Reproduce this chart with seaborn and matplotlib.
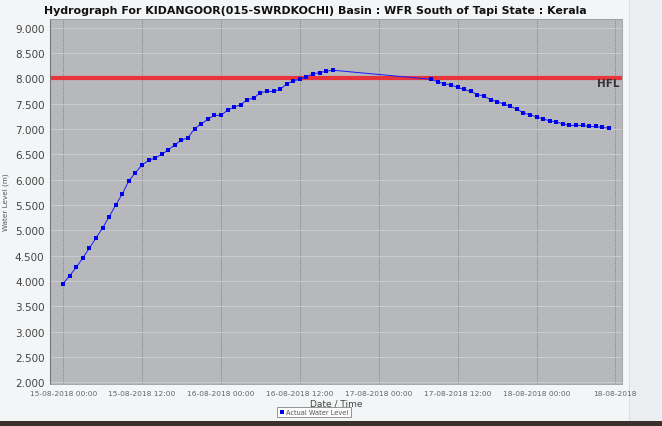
import matplotlib

matplotlib.use("Agg")
import matplotlib.pyplot as plt
import matplotlib.patches as mpatches
import matplotlib.transforms as mtransforms
import pandas as pd
import seaborn as sns

TITLE = "Hydrograph For KIDANGOOR(015-SWRDKOCHI) Basin : WFR South of Tapi State : Kerala"

START = pd.Timestamp("2018-08-15 00:00")

# hourly readings, hours counted from START (no data between hour 41 and 56)
HOURS = list(range(0, 42)) + list(range(56, 84))
LEVELS = [
    3.95, 4.11, 4.27, 4.46, 4.65, 4.85, 5.05, 5.27, 5.50, 5.72,
    5.98, 6.14, 6.29, 6.38, 6.43, 6.50, 6.59, 6.69, 6.78, 6.83,
    7.01, 7.10, 7.19, 7.27, 7.27, 7.37, 7.43, 7.48, 7.58, 7.61,
    7.72, 7.74, 7.74, 7.78, 7.89, 7.95, 7.98, 8.03, 8.09, 8.11,
    8.14, 8.16,
    7.98, 7.93, 7.89, 7.87, 7.82, 7.78, 7.74, 7.68, 7.65, 7.58,
    7.54, 7.49, 7.45, 7.39, 7.32, 7.28, 7.24, 7.20, 7.16, 7.14,
    7.10, 7.07, 7.07, 7.07, 7.05, 7.05, 7.03, 7.02,
]

HFL = 8.0

TICK_HOURS = [0, 12, 24, 36, 48, 60, 72, 84]
TICK_LABELS = [
    "15-08-2018 00:00", "15-08-2018 12:00", "16-08-2018 00:00", "16-08-2018 12:00",
    "17-08-2018 00:00", "17-08-2018 12:00", "18-08-2018 00:00", "18-08-2018",
]
Y_TICKS = [2.0, 2.5, 3.0, 3.5, 4.0, 4.5, 5.0, 5.5, 6.0, 6.5, 7.0, 7.5, 8.0, 8.5, 9.0]

df = pd.DataFrame({
    "time": [START + pd.Timedelta(hours=h) for h in HOURS],
    "level": LEVELS,
})

sns.set_style("white")
plt.rcParams["font.family"] = ["DejaVu Sans"]

fig = plt.figure(figsize=(6.62, 4.27), dpi=100, facecolor="#f3f5f7")
ax = fig.add_axes([50 / 662, 1 - 385 / 427, 572 / 662, 365 / 427])
ax.set_facecolor("#b6b8bb")

# panel decorations
fig.patches.append(mpatches.Rectangle((629 / 662, 5 / 427), 1, 1, transform=fig.transFigure,
                                      facecolor="#eceff2", edgecolor="#dde1e5", lw=0.8, zorder=-1))
fig.patches.append(mpatches.Rectangle((0, 0), 1, 5 / 427, transform=fig.transFigure,
                                      facecolor="#3b302b", edgecolor="none", zorder=-1))

ax.axhline(HFL, color="#e8353b", lw=3.0, zorder=2)
ax.text(START + pd.Timedelta(hours=84.6), 7.90, "HFL", ha="right", va="center",
        fontsize=7.5, fontweight="bold", color="#333333", zorder=4)

sns.lineplot(data=df, x="time", y="level", color="#1a1aff", linewidth=0.7,
             legend=False, ax=ax, zorder=3)
sns.scatterplot(data=df, x="time", y="level", color="#0000ee", marker="s", s=10,
                linewidth=0, label="Actual Water Level", ax=ax, zorder=3)

ax.set_xlim(START - pd.Timedelta(hours=2), START + pd.Timedelta(hours=85))
ax.set_ylim(1.97, 9.17)

ax.set_xticks([START + pd.Timedelta(hours=h) for h in TICK_HOURS])
ax.set_xticklabels(TICK_LABELS, fontsize=5.4, color="#666666")
last = ax.get_xticklabels()[-1]
last.set_transform(last.get_transform() + mtransforms.ScaledTranslation(-8 / 100, 0, fig.dpi_scale_trans))
ax.set_yticks(Y_TICKS)
ax.set_yticklabels([f"{v:.3f}" for v in Y_TICKS], fontsize=7.5, color="#444444")
ax.tick_params(axis="both", length=2, width=0.6, color="#777777", pad=2)

ax.grid(axis="x", color="#6e6e6e", linestyle=(0, (1, 1.5)), linewidth=0.6)
ax.grid(axis="y", color="#cdd0d3", linestyle="-", linewidth=0.6)
ax.set_axisbelow(True)

for side in ["top", "right", "bottom"]:
    ax.spines[side].set_color("#9a9a9a")
    ax.spines[side].set_linewidth(0.6)
ax.spines["left"].set_color("#777777")
ax.spines["left"].set_linewidth(0.8)

ax.set_xlabel("Date / Time", fontsize=6.5, color="#444444", labelpad=2)
ax.set_ylabel("Water Level (m)", fontsize=5.2, color="#555555", labelpad=4)

fig.text(315 / 662, 1 - 11 / 427, TITLE, ha="center", va="center",
         fontsize=7.9, fontweight="bold", color="#111111")

ax.legend_.remove()
handles, labels = ax.get_legend_handles_labels()
leg = fig.legend(handles, labels, loc="center", bbox_to_anchor=(314 / 662, 1 - 413 / 427),
                 fontsize=4.8, frameon=True, fancybox=False, handletextpad=0.2,
                 borderpad=0.35, handlelength=0.8, markerscale=0.8)
leg.get_frame().set_edgecolor("#666666")
leg.get_frame().set_linewidth(0.6)
leg.get_frame().set_facecolor("#ffffff")
for t in leg.get_texts():
    t.set_color("#555555")

fig.savefig("out.png", dpi=100, facecolor=fig.get_facecolor())
